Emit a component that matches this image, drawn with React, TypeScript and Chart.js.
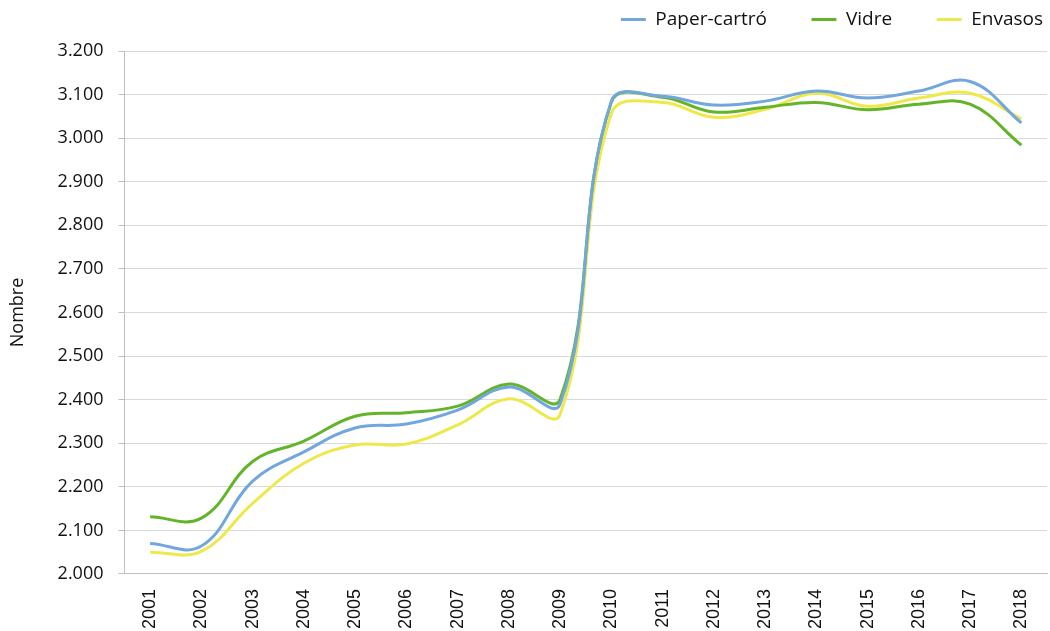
import React, { useEffect, useRef } from "react";
import { Chart, registerables } from "chart.js";

Chart.register(...registerables);

const years = ["2001","2002","2003","2004","2005","2006","2007","2008","2009","2010","2011","2012","2013","2014","2015","2016","2017","2018"];
const paperCartro = [2070, 2064, 2213, 2280, 2335, 2344, 2376, 2429, 2390, 3085, 3096, 3076, 3085, 3108, 3092, 3108, 3130, 3035];
const vidre = [2131, 2128, 2258, 2305, 2362, 2370, 2385, 2436, 2401, 3083, 3094, 3060, 3071, 3082, 3065, 3078, 3078, 2984];
const envasos = [2050, 2052, 2162, 2254, 2296, 2298, 2342, 2402, 2366, 3057, 3082, 3048, 3066, 3103, 3073, 3092, 3103, 3044];
const seriesNames = ["Paper-cartró", "Vidre", "Envasos"];
const seriesColors = ["#72A7DE", "#64B42A", "#EEE84A"];

const legendGap = {
  id: "legendGap",
  beforeInit(chart: any) {
    const legend = chart.legend;
    if (!legend) return;
    const orig = legend.fit;
    legend.fit = function () {
      orig.call(this);
      this.height += 12;
    };
  },
  afterLayout(chart: any) {
    const legend = chart.legend;
    if (!legend) return;
    legend.left += 6;
    legend.right += 6;
  },
};

export default function App() {
  const ref = useRef<HTMLCanvasElement | null>(null);
  useEffect(() => {
    document.body.style.margin = "0";
    const ctx = ref.current!;
    const data = [paperCartro, vidre, envasos];
    const chart = new Chart(ctx, {
      type: "line",
      data: {
        labels: years,
        datasets: data.map((d, i) => ({
          label: seriesNames[i],
          data: d,
          borderColor: seriesColors[i],
          backgroundColor: seriesColors[i],
          borderWidth: 3,
          pointRadius: 0,
          tension: 0.4,
          fill: false,
        })),
      },
      plugins: [legendGap],
      options: {
        animation: false,
        responsive: false,
        layout: { padding: { left: 4, right: 3, top: 0, bottom: -13 } },
        plugins: {
          tooltip: { enabled: false },
          legend: {
            position: "top",
            align: "end",
            labels: {
              boxWidth: 25,
              boxHeight: 3,
              padding: 10,
              color: "#111",
              font: { family: "'Open Sans', sans-serif", size: 19 },
              generateLabels: (c: any) => {
                const items = Chart.defaults.plugins.legend.labels.generateLabels(c);
                return items.map((it: any, i: number) => ({
                  ...it,
                  text: i < items.length - 1 ? it.text + "       " : it.text,
                  lineWidth: 0,
                }));
              },
            },
          },
        },
        scales: {
          x: {
            offset: true,
            afterFit: (s: any) => {
              s.paddingRight = 0;
              s.paddingLeft = 0;
            },
            grid: { display: false, drawTicks: false },
            border: { color: "#BFBFBF", width: 1 },
            ticks: {
              minRotation: 90,
              maxRotation: 90,
              padding: 15,
              color: "#111",
              font: { family: "'Liberation Sans', Arial, sans-serif", size: 18 },
            },
          },
          y: {
            min: 2000,
            max: 3200,
            grid: { color: "#D9D9D9", lineWidth: 1, tickLength: 6, drawTicks: true, tickColor: "#BFBFBF" },
            border: { color: "#BFBFBF", width: 1 },
            ticks: {
              stepSize: 100,
              padding: 15,
              color: "#111",
              font: { family: "'Open Sans', sans-serif", size: 18 },
              callback: (v: any) => {
                const n = Number(v);
                return Math.floor(n / 1000) + "." + String(n % 1000).padStart(3, "0");
              },
            },
            title: {
              display: true,
              text: "Nombre",
              color: "#111",
              padding: { top: 3, bottom: 14 },
              font: { family: "'Open Sans', sans-serif", size: 18 },
            },
          },
        },
      },
    });
    return () => chart.destroy();
  }, []);
  return (
    <div style={{ position: "absolute", left: 0, top: 0, width: 1050, height: 631 }}>
      <canvas ref={ref} width={1050} height={631} style={{ width: 1050, height: 631 }} />
    </div>
  );
}
